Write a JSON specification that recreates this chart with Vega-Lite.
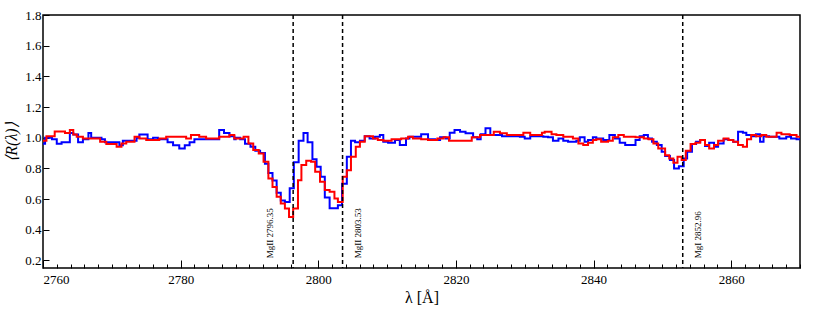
{
  "$schema": "https://vega.github.io/schema/vega-lite/v6.json",
  "width": 757,
  "height": 253,
  "autosize": "none",
  "padding": {"left": 43, "top": 15, "right": 30, "bottom": 41},
  "background": "white",
  "config": {"view": {"stroke": "black", "strokeWidth": 1.5}, "font": "Liberation Serif"},
  "datasets": {
    "blue": [
      {"x": 2760.0, "y": 0.96}, {"x": 2760.3, "y": 1.00}, {"x": 2761.3, "y": 0.99}, {"x": 2762.0, "y": 0.96},
      {"x": 2762.7, "y": 0.97}, {"x": 2763.9, "y": 1.03}, {"x": 2764.4, "y": 1.02}, {"x": 2765.1, "y": 0.97},
      {"x": 2765.8, "y": 0.99}, {"x": 2766.6, "y": 1.03}, {"x": 2767.0, "y": 1.00}, {"x": 2768.5, "y": 0.99},
      {"x": 2769.0, "y": 0.97}, {"x": 2771.1, "y": 0.95}, {"x": 2771.6, "y": 0.98}, {"x": 2773.6, "y": 1.00},
      {"x": 2774.0, "y": 1.02}, {"x": 2775.2, "y": 0.99}, {"x": 2776.0, "y": 1.00}, {"x": 2776.7, "y": 0.99},
      {"x": 2778.1, "y": 0.97}, {"x": 2778.9, "y": 0.95}, {"x": 2779.8, "y": 0.93}, {"x": 2780.6, "y": 0.95},
      {"x": 2781.3, "y": 0.97}, {"x": 2782.0, "y": 0.99}, {"x": 2785.6, "y": 1.05}, {"x": 2786.3, "y": 1.03},
      {"x": 2787.1, "y": 1.01}, {"x": 2787.8, "y": 0.99}, {"x": 2788.0, "y": 1.00}, {"x": 2788.65, "y": 0.99},
      {"x": 2789.35, "y": 0.96}, {"x": 2790.15, "y": 0.94}, {"x": 2790.85, "y": 0.915}, {"x": 2791.55, "y": 0.90},
      {"x": 2792.25, "y": 0.83}, {"x": 2792.75, "y": 0.77}, {"x": 2793.35, "y": 0.72}, {"x": 2793.95, "y": 0.64},
      {"x": 2794.55, "y": 0.59}, {"x": 2795.15, "y": 0.58}, {"x": 2795.85, "y": 0.67}, {"x": 2796.45, "y": 0.84},
      {"x": 2797.15, "y": 0.98}, {"x": 2797.85, "y": 1.03}, {"x": 2798.45, "y": 0.97}, {"x": 2799.15, "y": 0.86},
      {"x": 2799.75, "y": 0.81}, {"x": 2800.35, "y": 0.745}, {"x": 2800.95, "y": 0.61}, {"x": 2801.65, "y": 0.54},
      {"x": 2802.85, "y": 0.56}, {"x": 2803.45, "y": 0.70}, {"x": 2804.15, "y": 0.875}, {"x": 2804.75, "y": 0.98},
      {"x": 2805.35, "y": 0.97}, {"x": 2806.05, "y": 0.98}, {"x": 2806.75, "y": 1.01}, {"x": 2807.45, "y": 0.995},
      {"x": 2808.25, "y": 1.006}, {"x": 2808.95, "y": 1.017}, {"x": 2809.45, "y": 0.973}, {"x": 2810.15, "y": 0.967},
      {"x": 2811.15, "y": 0.984}, {"x": 2811.85, "y": 0.952}, {"x": 2812.75, "y": 0.995}, {"x": 2813.25, "y": 1.006},
      {"x": 2814.95, "y": 1.023}, {"x": 2815.95, "y": 0.99}, {"x": 2817.0, "y": 0.984}, {"x": 2817.7, "y": 1.002},
      {"x": 2818.5, "y": 0.995}, {"x": 2819.1, "y": 1.032}, {"x": 2819.8, "y": 1.05}, {"x": 2820.6, "y": 1.039},
      {"x": 2821.4, "y": 1.028}, {"x": 2822.5, "y": 1.002}, {"x": 2823.1, "y": 0.989}, {"x": 2823.6, "y": 1.023},
      {"x": 2824.3, "y": 1.061}, {"x": 2825.0, "y": 1.017}, {"x": 2826.7, "y": 1.01}, {"x": 2829.3, "y": 1.006},
      {"x": 2830.0, "y": 0.995}, {"x": 2830.8, "y": 1.01}, {"x": 2832.7, "y": 1.006}, {"x": 2833.4, "y": 1.002},
      {"x": 2834.1, "y": 0.98}, {"x": 2834.9, "y": 0.995}, {"x": 2835.6, "y": 0.98}, {"x": 2836.3, "y": 0.973},
      {"x": 2837.5, "y": 0.98}, {"x": 2838.0, "y": 1.002}, {"x": 2838.7, "y": 0.973}, {"x": 2839.2, "y": 0.984},
      {"x": 2839.9, "y": 1.002}, {"x": 2840.4, "y": 0.995}, {"x": 2841.4, "y": 0.984}, {"x": 2842.3, "y": 1.017},
      {"x": 2843.1, "y": 0.995}, {"x": 2843.8, "y": 0.967}, {"x": 2844.6, "y": 0.952}, {"x": 2846.1, "y": 0.984},
      {"x": 2846.7, "y": 1.01}, {"x": 2847.3, "y": 1.017}, {"x": 2847.9, "y": 0.995}, {"x": 2848.5, "y": 0.973},
      {"x": 2849.2, "y": 0.952}, {"x": 2849.9, "y": 0.908}, {"x": 2850.4, "y": 0.88}, {"x": 2851.1, "y": 0.854},
      {"x": 2851.7, "y": 0.799}, {"x": 2852.4, "y": 0.814}, {"x": 2853.1, "y": 0.864}, {"x": 2853.6, "y": 0.908},
      {"x": 2854.3, "y": 0.958}, {"x": 2854.9, "y": 0.973}, {"x": 2855.5, "y": 0.984}, {"x": 2856.2, "y": 0.945},
      {"x": 2856.8, "y": 0.967}, {"x": 2857.5, "y": 0.941}, {"x": 2858.1, "y": 0.962}, {"x": 2858.9, "y": 0.989},
      {"x": 2859.6, "y": 0.984}, {"x": 2860.3, "y": 0.973}, {"x": 2861.0, "y": 1.039}, {"x": 2861.7, "y": 1.032},
      {"x": 2862.2, "y": 1.017}, {"x": 2863.0, "y": 1.01}, {"x": 2863.6, "y": 1.023}, {"x": 2864.2, "y": 0.973},
      {"x": 2864.7, "y": 1.01}, {"x": 2865.5, "y": 1.006}, {"x": 2867.0, "y": 0.995}, {"x": 2868.0, "y": 1.006},
      {"x": 2868.7, "y": 0.995}, {"x": 2869.5, "y": 0.989}, {"x": 2870.0, "y": 0.989}
    ],
    "red": [
      {"x": 2760.0, "y": 0.98}, {"x": 2760.5, "y": 1.01}, {"x": 2761.7, "y": 1.04}, {"x": 2763.2, "y": 1.03},
      {"x": 2763.9, "y": 1.05}, {"x": 2764.4, "y": 1.02}, {"x": 2764.9, "y": 1.006}, {"x": 2765.8, "y": 0.995},
      {"x": 2768.3, "y": 0.973}, {"x": 2769.2, "y": 0.958}, {"x": 2770.7, "y": 0.941}, {"x": 2771.4, "y": 0.962},
      {"x": 2772.1, "y": 0.973}, {"x": 2773.3, "y": 1.006}, {"x": 2774.0, "y": 0.995}, {"x": 2775.0, "y": 0.984},
      {"x": 2776.9, "y": 0.995}, {"x": 2777.9, "y": 1.006}, {"x": 2780.8, "y": 0.995}, {"x": 2781.5, "y": 1.017},
      {"x": 2782.7, "y": 1.006}, {"x": 2783.7, "y": 0.995}, {"x": 2785.6, "y": 1.006}, {"x": 2787.1, "y": 1.017},
      {"x": 2787.8, "y": 0.995}, {"x": 2789.15, "y": 1.006}, {"x": 2789.85, "y": 0.962}, {"x": 2790.55, "y": 0.919},
      {"x": 2791.35, "y": 0.897}, {"x": 2792.05, "y": 0.843}, {"x": 2792.75, "y": 0.734}, {"x": 2793.35, "y": 0.679},
      {"x": 2793.95, "y": 0.614}, {"x": 2794.55, "y": 0.57}, {"x": 2795.15, "y": 0.538}, {"x": 2795.75, "y": 0.483},
      {"x": 2796.35, "y": 0.538}, {"x": 2797.05, "y": 0.723}, {"x": 2797.55, "y": 0.821}, {"x": 2798.25, "y": 0.849},
      {"x": 2798.95, "y": 0.843}, {"x": 2799.55, "y": 0.777}, {"x": 2800.25, "y": 0.712}, {"x": 2800.95, "y": 0.658},
      {"x": 2801.65, "y": 0.647}, {"x": 2802.35, "y": 0.603}, {"x": 2802.85, "y": 0.581}, {"x": 2803.55, "y": 0.745},
      {"x": 2804.15, "y": 0.788}, {"x": 2804.75, "y": 0.875}, {"x": 2805.45, "y": 0.941}, {"x": 2806.05, "y": 0.973},
      {"x": 2806.75, "y": 1.01}, {"x": 2807.95, "y": 0.995}, {"x": 2808.65, "y": 0.984}, {"x": 2809.45, "y": 0.98},
      {"x": 2810.65, "y": 0.989}, {"x": 2812.05, "y": 0.995}, {"x": 2813.05, "y": 1.006}, {"x": 2813.75, "y": 0.995},
      {"x": 2814.95, "y": 0.989}, {"x": 2815.95, "y": 0.984}, {"x": 2817.3, "y": 0.995}, {"x": 2818.2, "y": 1.002},
      {"x": 2819.0, "y": 0.98}, {"x": 2822.3, "y": 1.002}, {"x": 2823.5, "y": 1.017}, {"x": 2825.5, "y": 1.039},
      {"x": 2826.4, "y": 1.028}, {"x": 2827.4, "y": 1.017}, {"x": 2829.8, "y": 1.032}, {"x": 2830.8, "y": 1.017},
      {"x": 2832.5, "y": 1.032}, {"x": 2832.9, "y": 1.039}, {"x": 2833.9, "y": 1.023}, {"x": 2834.6, "y": 1.017},
      {"x": 2835.6, "y": 1.006}, {"x": 2837.0, "y": 0.995}, {"x": 2837.8, "y": 0.962}, {"x": 2838.5, "y": 0.952},
      {"x": 2839.2, "y": 0.967}, {"x": 2839.9, "y": 0.984}, {"x": 2840.4, "y": 0.989}, {"x": 2841.1, "y": 0.973},
      {"x": 2842.1, "y": 0.98}, {"x": 2842.8, "y": 1.002}, {"x": 2843.6, "y": 1.017}, {"x": 2844.4, "y": 1.006},
      {"x": 2846.1, "y": 1.002}, {"x": 2847.3, "y": 0.995}, {"x": 2848.0, "y": 0.989}, {"x": 2848.7, "y": 0.962},
      {"x": 2849.4, "y": 0.93}, {"x": 2850.4, "y": 0.886}, {"x": 2851.0, "y": 0.864}, {"x": 2851.6, "y": 0.836},
      {"x": 2852.2, "y": 0.875}, {"x": 2852.8, "y": 0.854}, {"x": 2853.4, "y": 0.915}, {"x": 2854.1, "y": 0.958},
      {"x": 2854.8, "y": 0.967}, {"x": 2855.5, "y": 0.984}, {"x": 2856.2, "y": 0.952}, {"x": 2856.8, "y": 0.93},
      {"x": 2857.5, "y": 0.952}, {"x": 2858.1, "y": 0.98}, {"x": 2858.9, "y": 0.995}, {"x": 2859.6, "y": 0.984},
      {"x": 2860.3, "y": 0.973}, {"x": 2861.0, "y": 0.952}, {"x": 2861.7, "y": 0.941}, {"x": 2862.3, "y": 0.989},
      {"x": 2862.9, "y": 1.017}, {"x": 2863.6, "y": 1.01}, {"x": 2864.4, "y": 1.017}, {"x": 2865.1, "y": 1.006},
      {"x": 2866.6, "y": 1.032}, {"x": 2867.3, "y": 1.023}, {"x": 2868.5, "y": 1.017}, {"x": 2869.5, "y": 1.006},
      {"x": 2870.0, "y": 1.006}
    ],
    "lines": [
      {"x": 2796.35, "label": "MgII 2796.35", "side": "left"},
      {"x": 2803.53, "label": "MgII 2803.53", "side": "right"},
      {"x": 2852.96, "label": "MgI 2852.96", "side": "right"}
    ]
  },
  "encoding": {
    "x": {
      "field": "x", "type": "quantitative",
      "scale": {"domain": [2760, 2870], "nice": false, "zero": false},
      "axis": {
        "values": [2760,2762,2764,2766,2768,2770,2772,2774,2776,2778,2780,2782,2784,2786,2788,2790,2792,2794,2796,2798,2800,2802,2804,2806,2808,2810,2812,2814,2816,2818,2820,2822,2824,2826,2828,2830,2832,2834,2836,2838,2840,2842,2844,2846,2848,2850,2852,2854,2856,2858,2860,2862,2864,2866,2868,2870],
        "tickSize": {"condition": {"test": "datum.value % 20 === 0", "value": -8}, "value": -4},
        "labelExpr": "datum.value % 20 === 0 ? datum.label : ''",
        "format": "d",
        "grid": false, "domain": false,
        "tickColor": "black", "tickWidth": 1,
        "labelColor": "black", "labelFont": "Liberation Serif", "labelFontSize": 13,
        "labelPadding": 13,
        "title": "λ [Å]", "titleFont": "Liberation Serif", "titleFontSize": 16,
        "titleFontWeight": "normal", "titleColor": "black", "titlePadding": 3
      }
    }
  },
  "layer": [
    {
      "data": {"name": "blue"},
      "mark": {"type": "line", "interpolate": "step-after", "color": "#0000ff", "strokeWidth": 2},
      "encoding": {
        "y": {
          "field": "y", "type": "quantitative",
          "scale": {"domain": [0.15, 1.8], "nice": false, "zero": false},
          "axis": {
            "values": [0.2, 0.4, 0.6, 0.8, 1.0, 1.2, 1.4, 1.6, 1.8], "format": ".1f", "tickSize": -6,
            "grid": false, "domain": false, "tickColor": "black", "tickWidth": 1,
            "labelColor": "black", "labelFont": "Liberation Serif", "labelFontSize": 13, "labelPadding": 8,
            "title": "⟨R(λ)⟩", "titleFont": "Liberation Serif", "titleFontSize": 16,
            "titleFontWeight": "normal", "titleFontStyle": "italic", "titleColor": "black", "titlePadding": 5
          }
        }
      }
    },
    {
      "data": {"name": "red"},
      "mark": {"type": "line", "interpolate": "step-after", "color": "#ff0000", "strokeWidth": 2},
      "encoding": {
        "y": {
          "field": "y", "type": "quantitative",
          "scale": {"domain": [0.15, 1.8], "nice": false, "zero": false},
          "axis": {
            "values": [0.2, 0.4, 0.6, 0.8, 1.0, 1.2, 1.4, 1.6, 1.8], "format": ".1f", "tickSize": -6,
            "grid": false, "domain": false, "tickColor": "black", "tickWidth": 1,
            "labelColor": "black", "labelFont": "Liberation Serif", "labelFontSize": 13, "labelPadding": 8,
            "title": "⟨R(λ)⟩", "titleFont": "Liberation Serif", "titleFontSize": 16,
            "titleFontWeight": "normal", "titleFontStyle": "italic", "titleColor": "black", "titlePadding": 5
          }
        }
      }
    },
    {
      "data": {"name": "lines"},
      "mark": {"type": "rule", "color": "black", "strokeWidth": 1.5, "strokeDash": [4, 3]},
      "encoding": {}
    },
    {
      "data": {"name": "lines"},
      "transform": [{"filter": "datum.side === 'left'"}],
      "mark": {"type": "text", "angle": 270, "align": "left", "baseline": "middle", "dy": -23, "font": "Liberation Serif", "fontSize": 9, "color": "black"},
      "encoding": {
        "y": {
          "datum": 0.213, "type": "quantitative",
          "scale": {"domain": [0.15, 1.8], "nice": false, "zero": false},
          "axis": {
            "values": [0.2, 0.4, 0.6, 0.8, 1.0, 1.2, 1.4, 1.6, 1.8], "format": ".1f", "tickSize": -6,
            "grid": false, "domain": false, "tickColor": "black", "tickWidth": 1,
            "labelColor": "black", "labelFont": "Liberation Serif", "labelFontSize": 13, "labelPadding": 8,
            "title": "⟨R(λ)⟩", "titleFont": "Liberation Serif", "titleFontSize": 16,
            "titleFontWeight": "normal", "titleFontStyle": "italic", "titleColor": "black", "titlePadding": 5
          }
        },
        "text": {"field": "label"}
      }
    },
    {
      "data": {"name": "lines"},
      "transform": [{"filter": "datum.side === 'right'"}],
      "mark": {"type": "text", "angle": 270, "align": "left", "baseline": "middle", "dy": 15, "font": "Liberation Serif", "fontSize": 9, "color": "black"},
      "encoding": {
        "y": {
          "datum": 0.213, "type": "quantitative",
          "scale": {"domain": [0.15, 1.8], "nice": false, "zero": false},
          "axis": {
            "values": [0.2, 0.4, 0.6, 0.8, 1.0, 1.2, 1.4, 1.6, 1.8], "format": ".1f", "tickSize": -6,
            "grid": false, "domain": false, "tickColor": "black", "tickWidth": 1,
            "labelColor": "black", "labelFont": "Liberation Serif", "labelFontSize": 13, "labelPadding": 8,
            "title": "⟨R(λ)⟩", "titleFont": "Liberation Serif", "titleFontSize": 16,
            "titleFontWeight": "normal", "titleFontStyle": "italic", "titleColor": "black", "titlePadding": 5
          }
        },
        "text": {"field": "label"}
      }
    }
  ]
}
